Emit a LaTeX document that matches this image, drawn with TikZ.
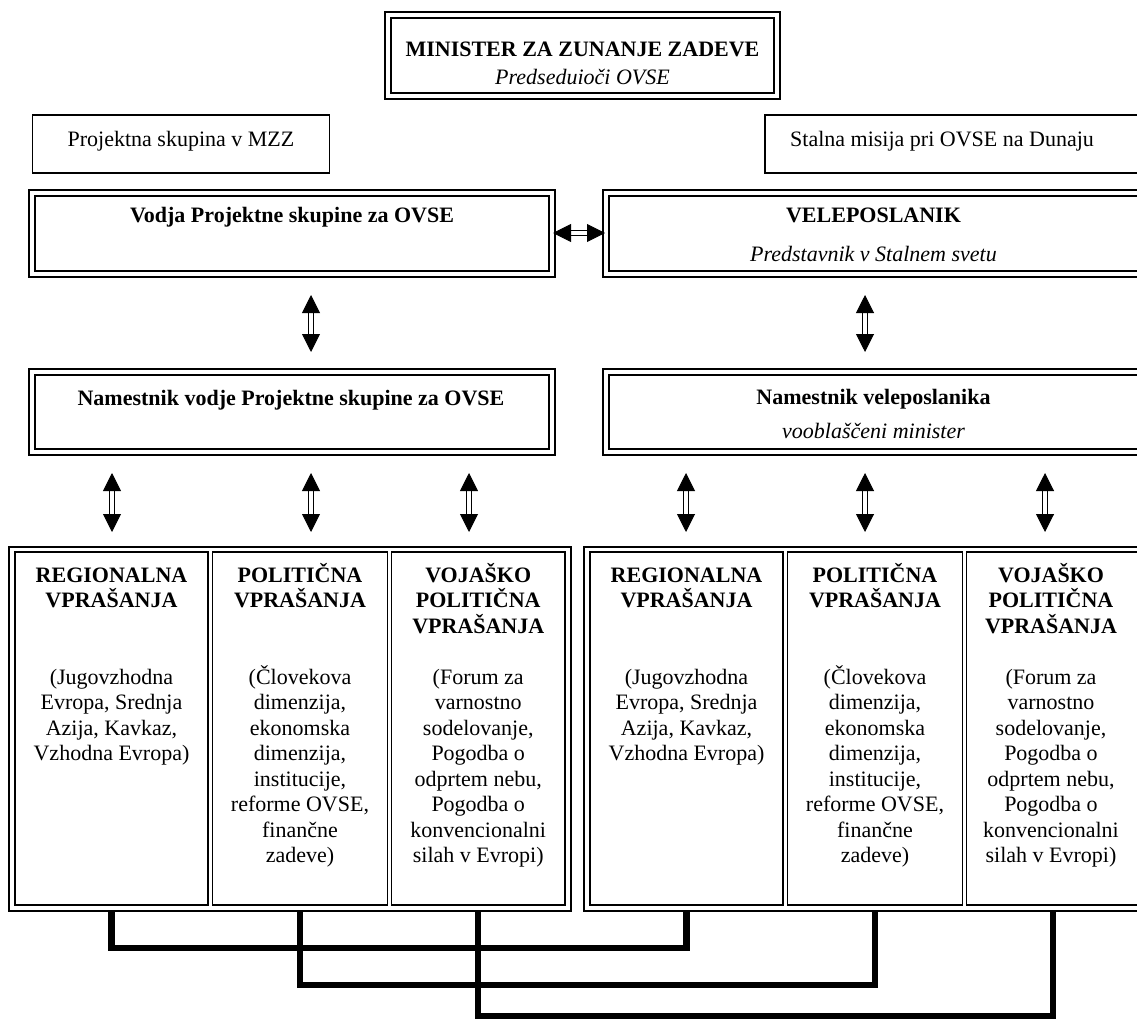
\documentclass[tikz,border=0pt]{standalone}
\usepackage{fontspec}
\setmainfont{Liberation Serif}
\usetikzlibrary{arrows.meta,calc}
\newcommand\dframe[3]{\draw[outerline] ($(#1.north west)+(-#3,-#3)$) rectangle ($(#2.south east)+(#3,#3)$);}
\newcommand\coltext[1]{\parbox[t]{132pt}{\centering #1}}
\begin{document}
\begin{tikzpicture}[x=0.75pt,y=-0.75pt,
  every node/.style={inner sep=0pt, font=\fontsize{16.5pt}{19.125pt}\selectfont},
  txt/.style={anchor=base},
  bx/.style n args={2}{draw, line width=0.8pt, minimum width=#1, minimum height=#2},
  sbx/.style n args={2}{draw, line width=0.9pt, minimum width=#1, minimum height=#2},
  outerline/.style={line width=1.5pt},
  dblarrow/.style={double, double distance=3pt, line width=0.7pt,
    {Triangle[width=13.5pt,length=13.5pt]}-{Triangle[width=13.5pt,length=13.5pt]}},
  conn/.style={line width=4.8pt, line join=miter}
]
\useasboundingbox (0,0) rectangle (1137,1023);
\clip (0,0) rectangle (1137,1023);
\fill[white] (0,0) rectangle (1137,1023);

% top box
\node[bx={287.25pt}{56.25pt}] (min) at (582.5,55.5) {};
\dframe{min}{min}{5}
\node[txt] (minT) at (582.5,57) {\bfseries MINISTER ZA ZUNANJE ZADEVE};
\node[txt] (minI) at (582.5,85) {\itshape Predseduioči OVSE};

% single boxes
\node[sbx={222.375pt}{43.5pt}] (proj) at (181,144) {};
\node[txt] (projT) at (181,147) {Projektna skupina v MZZ};
\node[sbx={288.75pt}{43.5pt}] (stal) at (957.5,144) {};
\node[txt] (stalT) at (942,147) {Stalna misija pri OVSE na Dunaju};

% second row
\node[bx={385.5pt}{56.25pt}] (vod) at (292,233.5) {};
\dframe{vod}{vod}{5}
\node[txt] (vodT) at (292,223) {\bfseries Vodja Projektne skupine za OVSE};
\node[bx={396.75pt}{56.25pt}] (vel) at (873.5,233.5) {};
\dframe{vel}{vel}{5}
\node[txt] (velT) at (873.5,223) {\bfseries VELEPOSLANIK};
\node[txt] (velI) at (873.5,262) {\itshape Predstavnik v Stalnem svetu};

% third row
\node[bx={385.5pt}{55.5pt}] (naml) at (292,412) {};
\dframe{naml}{naml}{5}
\node[txt] (namlT) at (291,405) {\bfseries Namestnik vodje Projektne skupine za OVSE};
\node[bx={396.75pt}{55.5pt}] (namr) at (873.5,412) {};
\dframe{namr}{namr}{5}
\node[txt] (namrT) at (873.5,404) {\bfseries Namestnik veleposlanika};
\node[txt] (namrI) at (873.5,438) {\itshape vooblaščeni minister};

% columns
\node[bx={144.75pt}{264.75pt}] (c1) at (111.5,728.5) {};
\node[bx={131.25pt}{264.75pt}] (c2) at (300,728.5) {};
\node[bx={130.125pt}{264.75pt}] (c3) at (478.25,728.5) {};
\node[bx={144.75pt}{264.75pt}] (c4) at (686.5,728.5) {};
\node[bx={131.25pt}{264.75pt}] (c5) at (875,728.5) {};
\node[bx={130.125pt}{264.75pt}] (c6) at (1053.25,728.5) {};
\draw[outerline] ($(c1.north west)+(-5.5,-4)$) rectangle ($(c3.south east)+(5,5)$);
\draw[outerline] ($(c4.north west)+(-5,-4)$) rectangle ($(c6.south east)+(5,5)$);

\foreach \n/\x in {1/111.5,4/686.5}{
  \node[txt] (h\n) at (\x,582) {\coltext{\bfseries REGIONALNA\\VPRAŠANJA}};
  \node[txt] (b\n) at (\x,684) {\coltext{(Jugovzhodna\\Evropa, Srednja\\Azija, Kavkaz,\\Vzhodna Evropa)}};
}
\foreach \n/\x in {2/300,5/875}{
  \node[txt] (h\n) at (\x,582) {\coltext{\bfseries POLITIČNA\\VPRAŠANJA}};
  \node[txt] (b\n) at (\x,684) {\coltext{(Človekova\\dimenzija,\\ekonomska\\dimenzija,\\institucije,\\reforme OVSE,\\finančne\\zadeve)}};
}
\foreach \n/\x in {3/478.25,6/1051}{
  \node[txt] (h\n) at (\x,582) {\coltext{\bfseries VOJAŠKO\\POLITIČNA\\VPRAŠANJA}};
  \node[txt] (b\n) at (\x,684) {\coltext{(Forum za\\varnostno\\sodelovanje,\\Pogodba o\\odprtem nebu,\\Pogodba o\\konvencionalni\\silah v Evropi)}};
}

% arrows
\coordinate (ha) at (553,233);
\coordinate (hb) at (605,233);
\draw[dblarrow] (ha) -- (hb);
\coordinate (v1a) at (311,295); \coordinate (v1b) at (311,352);
\coordinate (v2a) at (865,295); \coordinate (v2b) at (865,352);
\draw[dblarrow] (v1a) -- (v1b);
\draw[dblarrow] (v2a) -- (v2b);
\foreach \i/\x in {1/112,2/311,3/469,4/686,5/865,6/1045}{
  \coordinate (r\i a) at (\x,473);
  \coordinate (r\i b) at (\x,532);
  \draw[dblarrow] (r\i a) -- (r\i b);
}

% bottom connectors
\coordinate (gb) at (0,910);
\draw[conn] (c1.south |- gb) -- ++(0,38) -| (c4.south |- gb);
\draw[conn] (c2.south |- gb) -- ++(0,75) -| (c5.south |- gb);
\draw[conn] (c3.south |- gb) -- ++(0,106) -| (c6.south |- gb);
\end{tikzpicture}
\end{document}
